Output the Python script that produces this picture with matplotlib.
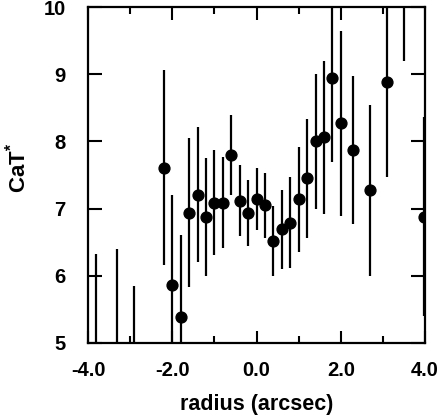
import matplotlib
matplotlib.use("Agg")
import matplotlib.pyplot as plt
import numpy as np

plt.rcParams['font.family'] = ['Liberation Sans', 'DejaVu Sans']
plt.rcParams['font.weight'] = 'bold'
plt.rcParams['mathtext.fontset'] = 'custom'
plt.rcParams['mathtext.bf'] = 'Liberation Sans:bold'

# radius (arcsec), CaT* index and its error
radius = [-3.8, -3.3, -2.9, -2.2, -2.0, -1.8, -1.6, -1.4, -1.2, -1.0, -0.8, -0.6, -0.4, -0.2,
          0.0, 0.2, 0.4, 0.6, 0.8, 1.0, 1.2, 1.4, 1.6, 1.8, 2.0, 2.3, 2.7, 3.1, 3.5, 3.98]
cat = [4.6, 4.5, 4.4, 7.61, 5.87, 5.39, 6.94, 7.21, 6.88, 7.09, 7.09, 7.80, 7.12, 6.94,
       7.14, 7.05, 6.52, 6.69, 6.79, 7.14, 7.45, 8.00, 8.06, 8.95, 8.27, 7.87, 7.27, 8.89, 10.8, 6.88]
cat_err = [1.72, 1.9, 1.45, 1.45, 1.33, 1.22, 1.11, 1.0, 0.88, 0.78, 0.68, 0.60, 0.53, 0.49,
           0.46, 0.48, 0.52, 0.59, 0.68, 0.78, 0.89, 1.01, 1.14, 1.26, 1.38, 1.10, 1.27, 1.42, 1.6, 1.48]

fig = plt.figure(figsize=(4.4, 4.16), dpi=100)
ax = fig.add_axes([0.2, 0.1755, 0.766, 0.8075])

ax.errorbar(radius, cat, yerr=cat_err, fmt='o', color='black', ms=7.8,
            elinewidth=1.6, capsize=0)

ax.set_xlim(-4, 4)
ax.set_ylim(5, 10)
ax.set_xticks([-4, -2, 0, 2, 4])
ax.set_xticks([-3, -1, 1, 3], minor=True)
ax.set_xticklabels(['-4.0', '-2.0', '0.0', '2.0', '4.0'])
ax.set_yticks([5, 6, 7, 8, 9, 10])

ax.tick_params(axis='x', which='major', direction='in', top=True, length=9, width=1.5,
               labelsize=14.5, pad=13)
ax.tick_params(axis='x', which='minor', direction='in', top=True, length=5, width=1.5)
ax.tick_params(axis='y', direction='in', right=True, length=10, width=1.5,
               labelsize=14.5, pad=16)
for s in ax.spines.values():
    s.set_linewidth(1.6)

ax.set_xlabel('radius (arcsec)', fontsize=15.5, fontweight='bold', labelpad=10)
ax.set_ylabel(r'CaT$^{\mathbf{*}}$', fontsize=16, fontweight='bold')
ax.yaxis.set_label_coords(-0.172, 0.52)

fig.savefig('out.png', dpi=100)
